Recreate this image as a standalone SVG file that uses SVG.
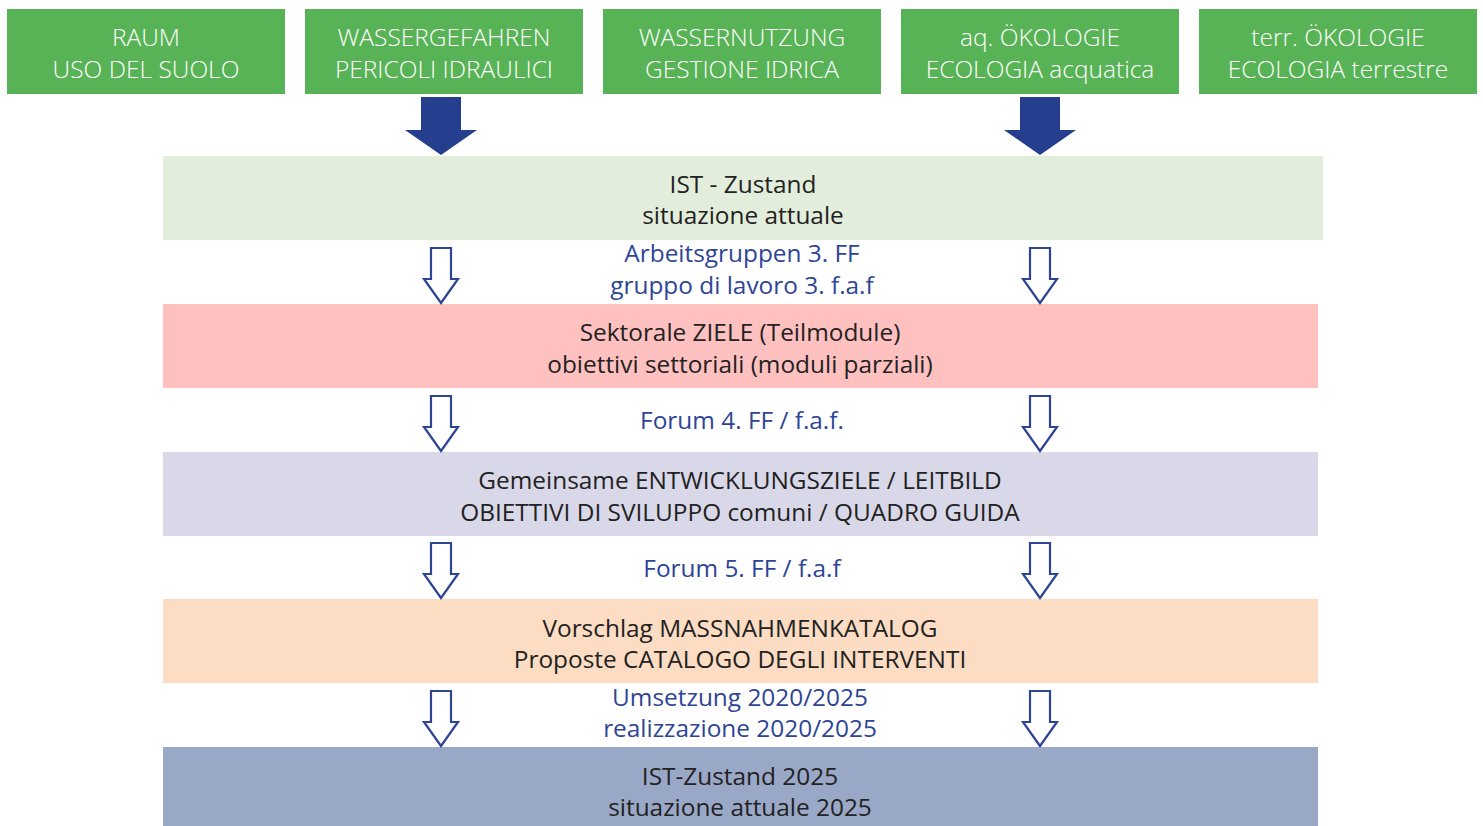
<svg xmlns="http://www.w3.org/2000/svg" width="1483" height="826" viewBox="0 0 1483 826">
<defs>
<style>
.top{fill:#58b356}
.tt{font-family:"Open Sans","Noto Sans",sans-serif;font-size:24.5px;font-weight:300;fill:#ffffff;text-anchor:middle}
.bt{font-family:"Open Sans","Noto Sans",sans-serif;font-size:24.4px;fill:#222222;text-anchor:middle}
.lt{font-family:"Open Sans","Noto Sans",sans-serif;font-size:24.4px;fill:#2e4596;text-anchor:middle}
.solid{fill:#253f8e}
.hollow{fill:#ffffff;stroke:#2e4596;stroke-width:2.2;stroke-linejoin:miter}
</style>
<path id="ha" class="hollow" d="M-10,0 H10 V31 H17 L0,55 L-17,31 H-10 Z"/>
<path id="sa" class="solid" d="M-20,0 H20 V33 H36 L0,58 L-36,33 H-20 Z"/>
</defs>
<rect width="1483" height="826" fill="#ffffff"/>

<g id="top1"><rect class="top" x="7" y="9" width="278" height="85"/><text class="tt" x="146" y="46">RAUM</text><text class="tt" x="146" y="78">USO DEL SUOLO</text></g>
<g id="top2"><rect class="top" x="305" y="9" width="278" height="85"/><text class="tt" x="444" y="46">WASSERGEFAHREN</text><text class="tt" x="444" y="78">PERICOLI IDRAULICI</text></g>
<g id="top3"><rect class="top" x="603" y="9" width="278" height="85"/><text class="tt" x="742" y="46">WASSERNUTZUNG</text><text class="tt" x="742" y="78">GESTIONE IDRICA</text></g>
<g id="top4"><rect class="top" x="901" y="9" width="278" height="85"/><text class="tt" x="1040" y="46">aq. ÖKOLOGIE</text><text class="tt" x="1040" y="78">ECOLOGIA acquatica</text></g>
<g id="top5"><rect class="top" x="1199" y="9" width="278" height="85"/><text class="tt" x="1338" y="46">terr. ÖKOLOGIE</text><text class="tt" x="1338" y="78">ECOLOGIA terrestre</text></g>

<g id="ist"><rect x="163" y="156" width="1160" height="84" fill="#e2eedb"/><text class="bt" x="743" y="193">IST - Zustand</text><text class="bt" x="743" y="224">situazione attuale</text></g>
<g id="ziele"><rect x="163" y="304" width="1155" height="84" fill="#ffc0c0"/><text class="bt" x="740" y="341">Sektorale ZIELE (Teilmodule)</text><text class="bt" x="740" y="373">obiettivi settoriali (moduli parziali)</text></g>
<g id="leitbild"><rect x="163" y="452" width="1155" height="84" fill="#d9d8e8"/><text class="bt" x="740" y="489">Gemeinsame ENTWICKLUNGSZIELE / LEITBILD</text><text class="bt" x="740" y="521">OBIETTIVI DI SVILUPPO comuni / QUADRO GUIDA</text></g>
<g id="katalog"><rect x="163" y="599" width="1155" height="84" fill="#fcdcc3"/><text class="bt" x="740" y="637">Vorschlag MASSNAHMENKATALOG</text><text class="bt" x="740" y="668">Proposte CATALOGO DEGLI INTERVENTI</text></g>
<g id="ist2025"><rect x="163" y="747" width="1155" height="79" fill="#9aa8c8"/><text class="bt" x="740" y="785">IST-Zustand 2025</text><text class="bt" x="740" y="816">situazione attuale 2025</text></g>

<g id="labels">
<text class="lt" x="742" y="262">Arbeitsgruppen 3. FF</text>
<text class="lt" x="742" y="294">gruppo di lavoro 3. f.a.f</text>
<text class="lt" x="742" y="429">Forum 4. FF / f.a.f.</text>
<text class="lt" x="742" y="577">Forum 5. FF / f.a.f</text>
<text class="lt" x="740" y="706">Umsetzung 2020/2025</text>
<text class="lt" x="740" y="737">realizzazione 2020/2025</text>
</g>

<g id="connectors">
<use href="#sa" x="441" y="97"/>
<use href="#sa" x="1040" y="97"/>
<use href="#ha" x="441" y="248"/>
<use href="#ha" x="1040" y="248"/>
<use href="#ha" x="441" y="396"/>
<use href="#ha" x="1040" y="396"/>
<use href="#ha" x="441" y="543"/>
<use href="#ha" x="1040" y="543"/>
<use href="#ha" x="441" y="691"/>
<use href="#ha" x="1040" y="691"/>
</g>
</svg>
